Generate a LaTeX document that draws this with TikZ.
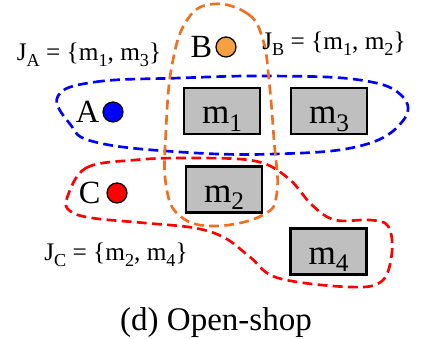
\documentclass[tikz,border=0pt]{standalone}
\usepackage{fontspec}
\setmainfont{Liberation Serif}
\usetikzlibrary{positioning}

\definecolor{hullorange}{RGB}{240,112,32}
\definecolor{dotorange}{RGB}{247,160,64}
\definecolor{boxgray}{RGB}{191,191,191}

% lowered index
\newcommand{\idx}[1]{\raisebox{-0.22em}{\scalebox{0.72}{#1}}}

\begin{document}
\begin{tikzpicture}[x=0.025cm, y=-0.025cm,
    machine/.style={draw=black, line width=1.9pt, fill=boxgray,
        minimum width=1.9cm, minimum height=1.15cm, inner sep=0pt,
        text height=18pt, text depth=0pt,
        font=\fontsize{25}{27}\selectfont},
    job/.style={circle, draw=black, line width=0.9pt, minimum size=0.5cm, inner sep=0pt},
    joblabel/.style={inner sep=0pt, font=\fontsize{23}{25}\selectfont},
    setlabel/.style={inner sep=0pt, font=\fontsize{18}{20}\selectfont},
    hull/.style={line width=1.9pt, dash pattern=on 7pt off 3.8pt}]
    \useasboundingbox (0,0) rectangle (422,339);

    % Machines
    \node[machine] (m1) at (222,111) {m\idx{1}};
    \node[machine] (m3) at (329,111) {m\idx{3}};
    \node[machine] (m2) at (224,189.5) {m\idx{2}};
    \node[machine] (m4) at (328.5,251.5) {m\idx{4}};

    % Jobs
    \node[job, fill=blue] (jA) at (113,112) {};
    \node[joblabel, left=2pt of jA] (lA) {A};
    \node[job, fill=dotorange] (jB) at (226,47) {};
    \node[joblabel, left=2pt of jB] (lB) {B};
    \node[job, fill=red] (jC) at (117,193) {};
    \node[joblabel, left=4pt of jC] (lC) {C};

    % Job A
    \draw[hull, blue]
        plot[smooth cycle, tension=0.7] coordinates {
            (58,96) (95,82) (180,78) (270,76) (360,80)
            (402,96) (402,122) (360,146) (275,154) (180,152) (95,142) (70,124)
        };
    \node[setlabel] (JA) at (89,55) {J\idx{A} = \{m\idx{1}, m\idx{3}\}};

    % Job B
    \draw[hull, hullorange]
        plot[smooth cycle, tension=0.7] coordinates {
            (213,4) (248,14) (263,40) (269,80) (274,140) (277,192)
            (263,215) (215,226) (180,216) (166,185) (166,130) (172,65) (187,20)
        };
    \node[setlabel] (JB) at (334,44) {J\idx{B} = \{m\idx{1}, m\idx{2}\}};

    % Job C
    \draw[hull, red]
        plot[smooth cycle, tension=0.6] coordinates {
            (67,198) (86,168) (135,160) (190,158) (255,161) (288,178)
            (312,205) (335,220) (370,220) (388,226) (392,252) (382,281)
            (350,287) (278,278) (250,257) (225,238) (195,228) (145,223) (92,218) (70,211)
        };
    \node[setlabel] (JC) at (116,255) {J\idx{C} = \{m\idx{2}, m\idx{4}\}};

    % Caption
    \node[inner sep=0pt, font=\fontsize{23.5}{26}\selectfont] (cap) at (216,323) {(d) Open-shop};
\end{tikzpicture}
\end{document}
